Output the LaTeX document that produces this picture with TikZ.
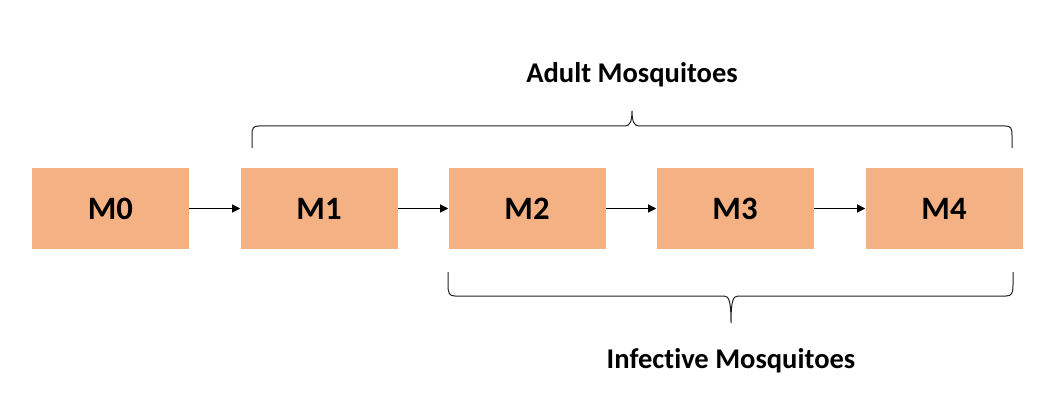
\documentclass[tikz,border=0pt]{standalone}
\usepackage{fontspec}
\setmainfont{Carlito}[Ligatures={NoCommon,NoRare,NoDiscretionary}]
\usetikzlibrary{arrows.meta}
\definecolor{boxfill}{HTML}{F4B183}
\definecolor{bracecol}{HTML}{202020}
\begin{document}
\begin{tikzpicture}[x=0.75pt,y=-0.75pt,
  stage/.style={fill=boxfill, draw=none, minimum width=117.75pt, minimum height=60.75pt,
    inner sep=0pt, font=\fontsize{24.5}{29}\selectfont\bfseries},
  flow/.style={draw=black, line width=0.75pt, -{Triangle[length=6pt,width=6pt]}},
  bracelabel/.style={font=\fontsize{21.4}{26}\selectfont\bfseries, inner sep=0pt},
  bracestyle/.style={draw=bracecol, line width=0.75pt}]
\useasboundingbox (0,0) rectangle (1059,413);
\node[stage] (m0) at (110.5,208.5) {M0};
\node[stage] (m1) at (319,208.5) {M1};
\node[stage] (m2) at (527,208.5) {M2};
\node[stage] (m3) at (735,208.5) {M3};
\node[stage] (m4) at (944,208.5) {M4};
\draw[flow] (m0) -- (m1);
\draw[flow] (m1) -- (m2);
\draw[flow] (m2) -- (m3);
\draw[flow] (m3) -- (m4);
% top brace
\draw[bracestyle] (252,148) -- (252,136) .. controls (252,128) and (253,126) .. (259,126)
  -- (625,126) .. controls (630,126) and (632,121) .. (632,111)
  .. controls (632,121) and (634,126) .. (639,126)
  -- (1005,126) .. controls (1011,126) and (1012,128) .. (1012,136) -- (1012,148);
% bottom brace
\draw[bracestyle] (448,272) -- (448,284) .. controls (448,293) and (449,296) .. (455,296)
  -- (724,296) .. controls (729,296) and (731,301) .. (731,323)
  .. controls (731,301) and (733,296) .. (738,296)
  -- (1006,296) .. controls (1012,296) and (1013,293) .. (1013,284) -- (1013,272);
\node[bracelabel] (adult) at (632,75) {Adult Mosquitoes};
\node[bracelabel] (infective) at (731,361) {Infective Mosquitoes};
\end{tikzpicture}
\end{document}
